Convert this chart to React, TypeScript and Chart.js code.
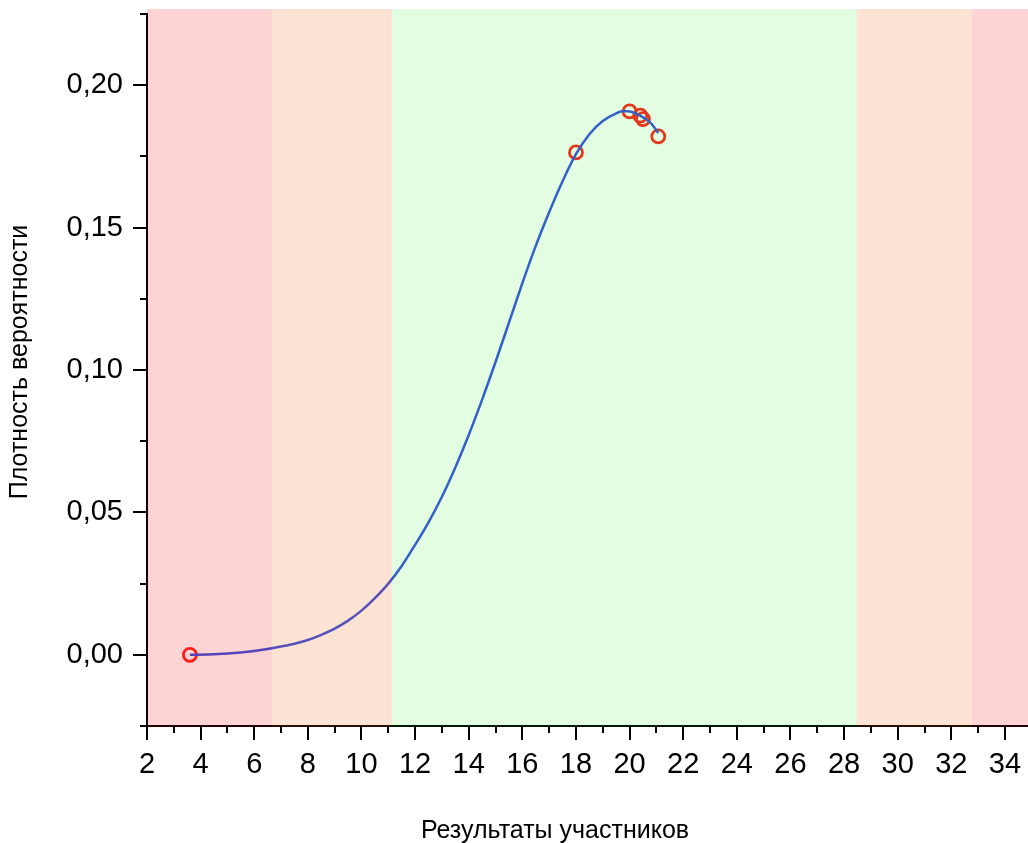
import React, { useEffect, useRef } from 'react';
import { Chart, registerables } from 'chart.js';

Chart.register(...registerables);

// Fitted density curve
const curveX = [3.6, 4.5, 5.5, 6.0, 6.5, 7.0, 7.5, 8.0, 8.5, 9.0, 9.5, 10.0, 10.5, 11.0, 11.5, 12.0, 12.5, 13.0, 13.5, 14.0, 14.5, 15.0, 15.5, 16.0, 16.5, 17.0, 17.5, 18.0, 18.5, 19.0, 19.5, 19.8, 20.0, 20.4, 20.8, 21.07];
const curveY = [0.0, 0.0002, 0.0008, 0.0013, 0.002, 0.0029, 0.0039, 0.0052, 0.007, 0.0092, 0.012, 0.0155, 0.0199, 0.025, 0.0312, 0.0386, 0.0465, 0.0555, 0.0658, 0.0772, 0.0896, 0.1028, 0.1166, 0.1305, 0.1436, 0.1554, 0.1663, 0.1758, 0.1828, 0.1874, 0.1901, 0.1909, 0.1908, 0.1893, 0.1866, 0.1832];

// Participants' results (markers)
const pointX = [3.6, 18.0, 20.0, 20.4, 20.5, 21.07];
const pointY = [0.0, 0.1764, 0.1908, 0.1893, 0.1881, 0.182];

// Background zones
const bandStart = [2, 6.66, 11.13, 28.47, 32.78];
const bandEnd = [6.66, 11.13, 28.47, 32.78, 34.86];
const bandColors = ['rgba(240,0,0,0.17)', 'rgba(237,90,0,0.17)', 'rgba(0,237,0,0.11)', 'rgba(237,90,0,0.17)', 'rgba(240,0,0,0.17)'];

// Tick labels
const xTickLabels = ['2', '4', '6', '8', '10', '12', '14', '16', '18', '20', '22', '24', '26', '28', '30', '32', '34'];
const yTickLabels = ['0,00', '0,05', '0,10', '0,15', '0,20'];

const xTitle = 'Результаты участников';
const yTitle = 'Плотность вероятности';

const FONT = '"Liberation Sans", Arial, sans-serif';

function noPad(s: any) {
  s.paddingTop = 0;
  s.paddingBottom = 0;
  s.paddingLeft = 0;
  s.paddingRight = 0;
}

export default function App() {
  const ref = useRef<HTMLCanvasElement | null>(null);

  useEffect(() => {
    document.body.style.margin = '0';
    const canvas = ref.current;
    if (!canvas) return;

    const bandsPlugin = {
      id: 'bands',
      afterDatasetsDraw(chart: any) {
        const { ctx, chartArea, scales } = chart;
        const xs = scales.x;
        ctx.save();
        for (let i = 0; i < bandStart.length; i++) {
          const x0 = xs.getPixelForValue(bandStart[i]);
          const x1 = xs.getPixelForValue(bandEnd[i]);
          ctx.fillStyle = bandColors[i];
          ctx.fillRect(x0, chartArea.top - 5, x1 - x0, chartArea.bottom - chartArea.top + 6);
        }
        ctx.restore();
      },
    };

    const ticksPlugin = {
      id: 'tickmarks',
      afterDraw(chart: any) {
        const { ctx, chartArea, scales } = chart;
        const xs = scales.x;
        const ys = scales.y;
        ctx.save();
        ctx.strokeStyle = '#000';
        ctx.lineWidth = 2;
        xs.ticks.forEach((t: any) => {
          const px = Math.round(xs.getPixelForValue(t.value));
          const major = Math.round(t.value) % 2 === 0;
          ctx.beginPath();
          ctx.moveTo(px, chartArea.bottom);
          ctx.lineTo(px, chartArea.bottom + (major ? 14 : 7));
          ctx.stroke();
        });
        ys.ticks.forEach((t: any) => {
          const py = Math.round(ys.getPixelForValue(t.value));
          const major = Math.round(t.value * 1000) % 50 === 0;
          ctx.beginPath();
          ctx.moveTo(chartArea.left, py);
          ctx.lineTo(chartArea.left - (major ? 14 : 7), py);
          ctx.stroke();
        });
        // axis titles
        ctx.fillStyle = '#000';
        ctx.font = `25px ${FONT}`;
        ctx.textAlign = 'center';
        ctx.textBaseline = 'alphabetic';
        ctx.fillText(xTitle, 555, 838);
        ctx.translate(27, 362);
        ctx.rotate(-Math.PI / 2);
        ctx.fillText(yTitle, 0, 0);
        ctx.restore();
      },
    };

    const chart = new Chart(canvas, {
      type: 'line',
      data: {
        datasets: [
          {
            label: 'curve',
            data: curveX.map((x, i) => ({ x, y: curveY[i] })),
            borderColor: 'rgb(56,80,225)',
            borderWidth: 2.5,
            pointRadius: 0,
            cubicInterpolationMode: 'monotone',
            fill: false,
          },
          {
            label: 'points',
            data: pointX.map((x, i) => ({ x, y: pointY[i] })),
            showLine: false,
            pointRadius: 6.5,
            pointBorderWidth: 2.8,
            pointBorderColor: 'rgb(255,35,30)',
            pointBackgroundColor: 'rgba(0,0,0,0)',
          },
        ],
      },
      options: {
        responsive: false,
        animation: false,
        layout: { autoPadding: false, padding: { top: 14, right: 0, left: 0, bottom: 0 } },
        plugins: { legend: { display: false }, tooltip: { enabled: false } },
        scales: {
          x: {
            type: 'linear',
            min: 2,
            max: 34.86,
            afterFit: (s: any) => { s.height = 117; noPad(s); },
            grid: { display: false, drawTicks: false },
            border: { display: true, color: '#000', width: 2 },
            ticks: {
              stepSize: 1,
              includeBounds: false,
              autoSkip: false,
              maxRotation: 0,
              padding: 22,
              color: '#000',
              font: { family: FONT, size: 29 },
              callback: (v: any) => {
                const n = Math.round(Number(v));
                return n % 2 === 0 ? xTickLabels[(n - 2) / 2] ?? '' : '';
              },
            },
          },
          y: {
            type: 'linear',
            min: -0.025,
            max: 0.225,
            afterFit: (s: any) => { s.width = 147; noPad(s); },
            grid: { display: false, drawTicks: false },
            border: { display: true, color: '#000', width: 2 },
            ticks: {
              stepSize: 0.025,
              includeBounds: false,
              autoSkip: false,
              padding: 24,
              color: '#000',
              font: { family: FONT, size: 29 },
              callback: (v: any) => {
                const m = Math.round(Number(v) * 1000);
                if (m % 50 !== 0 || m < 0) return '';
                return yTickLabels[m / 50] ?? '';
              },
            },
          },
        },
      },
      plugins: [bandsPlugin, ticksPlugin],
    } as any);

    return () => chart.destroy();
  }, []);

  return (
    <div style={{ width: 1028, height: 843 }}>
      <canvas ref={ref} width={1028} height={843} />
    </div>
  );
}
